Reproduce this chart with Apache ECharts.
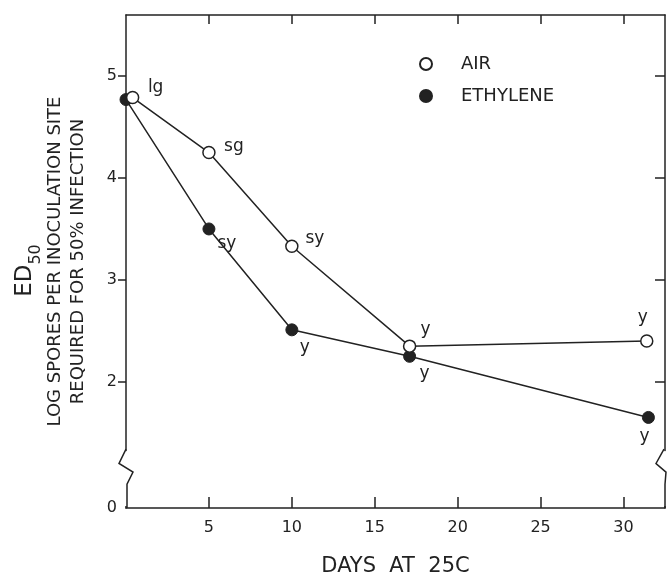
<!DOCTYPE html>
<html>
<head>
<meta charset="utf-8">
<script src="https://cdn.jsdelivr.net/npm/echarts@6/dist/echarts.min.js"></script>
<style>
  html, body { margin: 0; padding: 0; background: #fff; }
  #chart { width: 668px; height: 586px; }
</style>
</head>
<body>
<div id="chart"></div>
<script>
// 数据
var airDays = [0.4, 5, 10, 17.1, 31.4];
var airED50 = [4.79, 4.25, 3.33, 2.35, 2.40];
var airTags = ['lg', 'sg', 'sy', 'y', 'y'];

var ethDays = [0, 5, 10, 17.1, 31.5];
var ethED50 = [4.77, 3.50, 2.51, 2.25, 1.65];
var ethTags = ['', 'sy', 'y', 'y', 'y'];

var xTicks = [5, 10, 15, 20, 25, 30];
var yTicks = [0, 2, 3, 4, 5];
var yBreak = [0.2, 1.3];

// label offsets from the point centre
var airOffsets = [[23, -10], [25, -6], [23, -8], [16, -17], [-4, -23]];
var ethOffsets = [[0, 0], [18, 15], [13, 18], [15, 17], [-4, 19]];

var font = 'DejaVu Sans';
var ink = '#222';

function buildData(xs, ys, tags, offsets) {
    return xs.map(function (x, i) {
        return {
            value: [x, ys[i]],
            label: {
                show: tags[i] !== '',
                formatter: tags[i],
                position: 'inside',
                offset: offsets[i],
                align: 'center',
                verticalAlign: 'middle',
                color: ink,
                fontFamily: font,
                fontSize: 17
            }
        };
    });
}

var chart = echarts.init(document.getElementById('chart'));

var option = {
    animation: false,
    backgroundColor: '#fff',
    grid: { left: 126, right: 3, top: 15, bottom: 78 },
    legend: {
        orient: 'vertical',
        left: 414,
        top: 50,
        itemWidth: 60,
        itemHeight: 12,
        itemGap: 14,
        icon: 'circle',
        textStyle: { fontFamily: font, fontSize: 18, color: ink },
        data: ['AIR', 'ETHYLENE']
    },
    xAxis: [{
        type: 'value',
        min: 0,
        max: 32.5,
        interval: 5,
        splitLine: { show: false },
        axisLine: { onZero: false, lineStyle: { color: ink, width: 1.5 } },
        axisTick: { inside: true, length: 11, lineStyle: { color: ink, width: 1.5 }, customValues: xTicks },
        axisLabel: { customValues: xTicks, color: ink, fontFamily: font, fontSize: 16, margin: 12 },
        name: 'DAYS  AT  25C',
        nameLocation: 'middle',
        nameGap: 48,
        nameTextStyle: { fontFamily: font, fontSize: 21, color: ink }
    }, {
        type: 'value',
        position: 'top',
        min: 0,
        max: 32.5,
        splitLine: { show: false },
        axisLine: { show: true, onZero: false, lineStyle: { color: ink, width: 1.5 } },
        axisTick: { inside: true, length: 9, lineStyle: { color: ink, width: 1.5 }, customValues: xTicks },
        axisLabel: { show: false }
    }],
    yAxis: [{
        type: 'value',
        min: 0,
        max: 5.6,
        breaks: [{ start: yBreak[0], end: yBreak[1], gap: '7%' }],
        breakArea: {
            show: true,
            itemStyle: { color: 'rgba(0,0,0,0)', borderColor: 'rgba(0,0,0,0)', borderWidth: 0 }
        },
        splitLine: { show: false },
        axisLine: { show: true, onZero: false, lineStyle: { color: ink, width: 1.5 } },
        axisTick: { inside: false, length: 8, lineStyle: { color: ink, width: 1.5 }, customValues: [2, 3, 4, 5] },
        axisLabel: { customValues: yTicks, color: ink, fontFamily: font, fontSize: 16, margin: 9 },
        name: '{e|ED}{s|50}\n{n|LOG SPORES PER INOCULATION SITE}\n{n|REQUIRED FOR 50% INFECTION}',
        nameLocation: 'middle',
        nameGap: 36,
        nameTextStyle: {
            align: 'center',
            color: ink,
            fontFamily: font,
            rich: {
                e: { fontSize: 23, lineHeight: 38, fontFamily: font, color: ink },
                s: { fontSize: 16, lineHeight: 16, verticalAlign: 'bottom', padding: [0, 18, 0, 0], fontFamily: font, color: ink },
                n: { fontSize: 18, lineHeight: 23, fontFamily: font, color: ink }
            }
        }
    }, {
        type: 'value',
        position: 'right',
        min: 0,
        max: 5.6,
        breaks: [{ start: yBreak[0], end: yBreak[1], gap: '7%' }],
        breakArea: {
            show: true,
            itemStyle: { color: 'rgba(0,0,0,0)', borderColor: 'rgba(0,0,0,0)', borderWidth: 0 }
        },
        splitLine: { show: false },
        axisLine: { show: true, onZero: false, lineStyle: { color: ink, width: 1.5 } },
        axisTick: { inside: true, length: 10, lineStyle: { color: ink, width: 1.5 }, customValues: [2, 3, 4, 5] },
        axisLabel: { show: false }
    }],
    series: [{
        name: 'AIR',
        type: 'line',
        symbol: 'circle',
        symbolSize: 12,
        lineStyle: { color: ink, width: 1.5 },
        itemStyle: { color: '#fff', borderColor: ink, borderWidth: 1.5 },
        z: 3,
        data: buildData(airDays, airED50, airTags, airOffsets)
    }, {
        name: 'ETHYLENE',
        type: 'line',
        symbol: 'circle',
        symbolSize: 12,
        lineStyle: { color: ink, width: 1.5 },
        itemStyle: { color: ink, borderColor: ink, borderWidth: 1 },
        z: 2,
        data: buildData(ethDays, ethED50, ethTags, ethOffsets)
    }]
};

chart.setOption(option);

// zigzag break marks on the left and right axis lines
var yTop = chart.convertToPixel({ yAxisIndex: 0 }, yBreak[1]);
var yBot = chart.convertToPixel({ yAxisIndex: 0 }, yBreak[0]);
var yZero = chart.convertToPixel({ yAxisIndex: 0 }, 0);
var xL = chart.convertToPixel({ xAxisIndex: 0 }, 0);
var xR = chart.convertToPixel({ xAxisIndex: 0 }, 32.5);
var h = yBot - yTop;

function zigzag(x, left, right) {
    return [
        { type: 'rect', shape: { x: x - 3, y: yTop - 2, width: 6, height: yZero - yTop }, style: { fill: '#fff' }, z: 50 },
        {
            type: 'polyline',
            shape: { points: [
                [x, yTop - 4], [x - left, yTop + h * 0.3], [x + right, yTop + h * 0.55],
                [x + 1, yTop + h * 0.9], [x + 1, yZero]
            ] },
            style: { stroke: ink, lineWidth: 1.5, fill: null },
            z: 51
        }
    ];
}

chart.setOption({ graphic: zigzag(xL, 7, 7).concat(zigzag(xR - 1, 8, 2)) });
</script>
</body>
</html>
